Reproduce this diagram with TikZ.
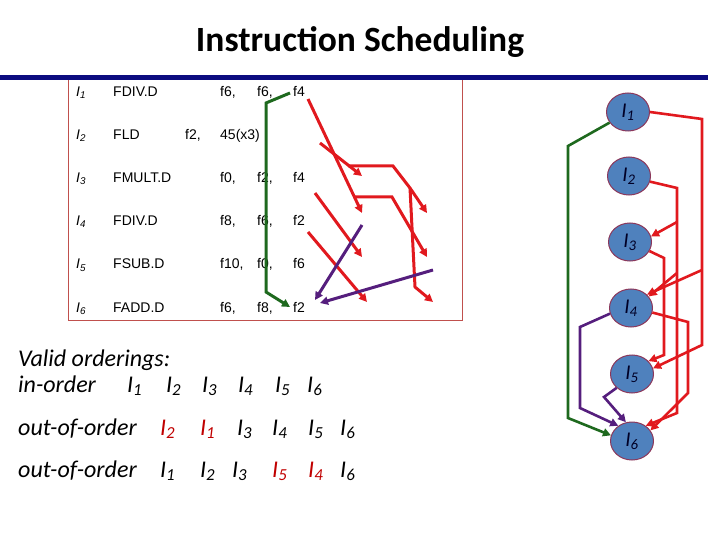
\documentclass[tikz,border=0pt]{standalone}
\usepackage{fontspec}
\setmainfont{Carlito}
\newfontfamily\tabfont{Liberation Sans}
\usetikzlibrary{arrows.meta,shapes.geometric}
\definecolor{navybar}{RGB}{12,12,128}
\definecolor{boxred}{RGB}{192,80,77}
\definecolor{arred}{RGB}{225,25,30}
\definecolor{argreen}{RGB}{30,105,30}
\definecolor{arpurple}{RGB}{85,30,125}
\definecolor{nodefill}{RGB}{79,129,189}
\definecolor{nodeborder}{RGB}{140,55,90}
\definecolor{ordred}{RGB}{192,0,0}
\tikzset{
  tab/.style={font=\tabfont\fontsize{14}{16}\selectfont, anchor=base west, inner sep=0pt},
  ord/.style={font=\itshape\fontsize{24}{28}\selectfont, anchor=base west, inner sep=0pt},
  inode/.style={ellipse, fill=nodefill, draw=nodeborder, line width=1pt, minimum width=43pt, minimum height=38pt, inner sep=0pt, font=\itshape\fontsize{21}{23}\selectfont, text=black!85!blue},
  tip/.style={-{Triangle[length=8pt,width=8pt]}},
  redln/.style={arred, line width=3pt},
  grnln/.style={argreen, line width=3pt},
  purln/.style={arpurple, line width=3pt},
}
\begin{document}
\begin{tikzpicture}[x=1pt,y=-1pt]
\useasboundingbox (0,0) rectangle (720,540);
% title
\node[font=\bfseries\fontsize{35.5}{40}\selectfont] (title) at (360,42) {Instruction Scheduling};
% table box and bar
\draw[boxred, line width=0.8pt] (68,75) rectangle (462,320);
\draw[navybar, line width=5pt] (0,77.5) -- (708,77.5);
% table rows
\node[tab] (l1) at (76,96.5) {\textit{I\textsubscript{1}}};
\node[tab] (o1) at (113,96.5) {FDIV.D};
\node[tab] (a1) at (220,96.5) {f6,};
\node[tab] (b1) at (257,96.5) {f6,};
\node[tab] (c1) at (293,96.5) {f4};
\node[tab] (l2) at (76,139.6) {\textit{I\textsubscript{2}}};
\node[tab] (o2) at (113,139.6) {FLD};
\node[tab] (a2) at (185,139.6) {f2,};
\node[tab] (b2) at (220,139.6) {45(x3)};
\node[tab] (l3) at (76,182.7) {\textit{I\textsubscript{3}}};
\node[tab] (o3) at (113,182.7) {FMULT.D};
\node[tab] (a3) at (220,182.7) {f0,};
\node[tab] (b3) at (257,182.7) {f2,};
\node[tab] (c3) at (293,182.7) {f4};
\node[tab] (l4) at (76,225.8) {\textit{I\textsubscript{4}}};
\node[tab] (o4) at (113,225.8) {FDIV.D};
\node[tab] (a4) at (220,225.8) {f8,};
\node[tab] (b4) at (257,225.8) {f6,};
\node[tab] (c4) at (293,225.8) {f2};
\node[tab] (l5) at (76,268.9) {\textit{I\textsubscript{5}}};
\node[tab] (o5) at (113,268.9) {FSUB.D};
\node[tab] (a5) at (220,268.9) {f10,};
\node[tab] (b5) at (257,268.9) {f0,};
\node[tab] (c5) at (293,268.9) {f6};
\node[tab] (l6) at (76,312) {\textit{I\textsubscript{6}}};
\node[tab] (o6) at (113,312) {FADD.D};
\node[tab] (a6) at (220,312) {f6,};
\node[tab] (b6) at (257,312) {f8,};
\node[tab] (c6) at (293,312) {f2};
% table dependency arrows
\draw[grnln, tip] (290,93) -- (266,103) -- (266,292) -- (290,307);
\draw[redln, tip] (308,99) -- (362,213);
\draw[redln, tip] (355,197) -- (392,197) -- (427,257);
\draw[redln, tip] (320,143) -- (362,176);
\draw[redln, tip] (348,166) -- (393,166) -- (410,188) -- (427,213);
\draw[redln, tip] (410,188) -- (415,287) -- (433,302);
\draw[redln, tip] (315,193) -- (362,257);
\draw[redln, tip] (308,232) -- (367,302);
\draw[purln, tip] (362,225) -- (315,300);
\draw[purln, tip] (433,270) -- (320,303);
% orderings
\node[ord] (vo) at (18,366) {Valid orderings:};
\node[ord] (io) at (18,392) {in-order};
\node[ord] (i11) at (127,392) {I\textsubscript{1}};
\node[ord] (i12) at (166,392) {I\textsubscript{2}};
\node[ord] (i13) at (202,392) {I\textsubscript{3}};
\node[ord] (i14) at (238,392) {I\textsubscript{4}};
\node[ord] (i15) at (275,392) {I\textsubscript{5}};
\node[ord] (i16) at (307,392) {I\textsubscript{6}};
\node[ord] (oo1) at (18,435) {out-of-order};
\node[ord, text=ordred] (i22) at (160,435) {I\textsubscript{2}};
\node[ord, text=ordred] (i21) at (200,435) {I\textsubscript{1}};
\node[ord] (i23) at (237,435) {I\textsubscript{3}};
\node[ord] (i24) at (272,435) {I\textsubscript{4}};
\node[ord] (i25) at (308,435) {I\textsubscript{5}};
\node[ord] (i26) at (340,435) {I\textsubscript{6}};
\node[ord] (oo2) at (18,477) {out-of-order};
\node[ord] (i31) at (160,477) {I\textsubscript{1}};
\node[ord] (i32) at (200,477) {I\textsubscript{2}};
\node[ord] (i33) at (232,477) {I\textsubscript{3}};
\node[ord, text=ordred] (i35) at (272,477) {I\textsubscript{5}};
\node[ord, text=ordred] (i34) at (308,477) {I\textsubscript{4}};
\node[ord] (i36) at (340,477) {I\textsubscript{6}};
% dependency graph
\node[inode] (n1) at (628,112) {I\textsubscript{1}};
\node[inode] (n2) at (629,176) {I\textsubscript{2}};
\node[inode] (n3) at (630,242) {I\textsubscript{3}};
\node[inode] (n4) at (631,308) {I\textsubscript{4}};
\node[inode] (n5) at (632,374) {I\textsubscript{5}};
\node[inode] (n6) at (632,441) {I\textsubscript{6}};
\begin{scope}[line width=2.6pt]
\draw[arred, tip] (n1.east) -- (702,119) -- (702,345) -- (n5.15);
\draw[arred, tip] (702,270) -- (n4.40);
\draw[argreen, tip] (n1.210) -- (568,146) -- (568,418) -- (n6.165);
\draw[arred, tip] (n2.-15) -- (677,188) -- (677,413) -- (n6.48);
\draw[arred, tip] (677,222) -- (n3.15);
\draw[arred, tip] (677,273) -- (n4.33);
\draw[arred, tip] (n3.-25) -- (664,258) -- (664,355) -- (n5.38);
\draw[arred, tip] (n4.-12) -- (688,322) -- (688,393) -- (n6.30);
\draw[arpurple, tip] (n4.195) -- (580,327) -- (580,408) -- (n6.132);
\draw[arpurple, tip] (n5.222) -- (604,397) -- (n6.108);
\end{scope}
\end{tikzpicture}
\end{document}
